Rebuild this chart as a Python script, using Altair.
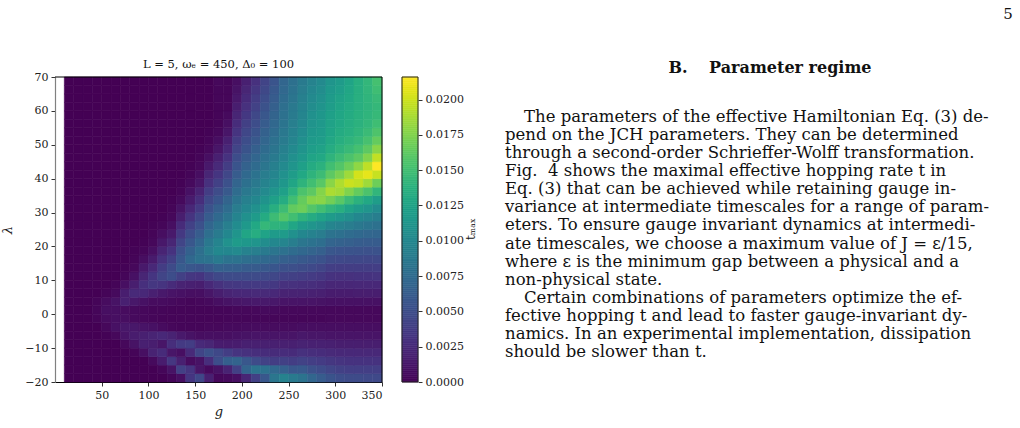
import altair as alt
import numpy as np
import pandas as pd

SERIF = "DejaVu Serif"

# ---------------------------------------------------------------------------
# t_max map: cell edges in g and lambda
G_EDGES = list(range(10, 351, 10))                 # 34 columns
LAMBDA_EDGES = [-20 + 2.5 * k for k in range(37)]  # 36 rows

# t_max per g-column, listed from lambda = -20 (bottom) to 70 (top), unit 1e-4
T_MAX_COLUMNS = [
    [0, 0, 0, 0, 0, 0, 0, 0, 0, 0, 0, 0,  0, 0, 0, 0, 0, 0, 0, 0, 0, 0, 0, 0,  0, 0, 0, 0, 0, 0, 0, 0, 0, 0, 0, 0],  # g=15
    [0, 0, 0, 0, 0, 0, 0, 0, 0, 0, 0, 0,  0, 0, 0, 0, 0, 0, 0, 0, 0, 0, 0, 0,  0, 0, 0, 0, 0, 0, 0, 0, 0, 0, 0, 0],  # g=25
    [0, 0, 0, 0, 0, 0, 0, 0, 0, 0, 0, 0,  0, 0, 0, 0, 0, 0, 0, 0, 0, 0, 0, 0,  0, 0, 0, 0, 0, 0, 0, 0, 0, 0, 0, 0],  # g=35
    [0, 0, 0, 0, 0, 0, 0, 2, 3, 2, 0, 0,  0, 0, 0, 0, 0, 0, 0, 0, 0, 0, 0, 0,  0, 0, 0, 0, 0, 0, 0, 0, 0, 0, 0, 0],  # g=45
    [0, 0, 0, 0, 0, 1, 4, 6, 8, 6, 2, 0,  0, 0, 0, 0, 0, 0, 0, 0, 0, 0, 0, 0,  0, 0, 0, 0, 0, 0, 0, 0, 0, 0, 0, 0],  # g=55
    [0, 0, 0, 0, 0, 4, 9, 8, 8, 10, 5, 2,  0, 0, 0, 0, 0, 0, 0, 0, 0, 0, 0, 0,  0, 0, 0, 0, 0, 0, 0, 0, 0, 0, 0, 0],  # g=65
    [0, 0, 0, 0, 4, 11, 13, 7, 6, 18, 17, 8,  3, 1, 0, 0, 0, 0, 0, 0, 0, 0, 0, 0,  0, 0, 0, 0, 0, 0, 0, 0, 0, 0, 0, 0],  # g=75
    [0, 0, 0, 2, 10, 16, 13, 5, 5, 13, 25, 17,  9, 4, 2, 1, 0, 0, 0, 0, 0, 0, 0, 0,  0, 0, 0, 0, 0, 0, 0, 0, 0, 0, 0, 0],  # g=85
    [0, 0, 0, 8, 18, 18, 11, 4, 4, 9, 24, 29,  22, 14, 7, 3, 1, 0, 0, 0, 0, 0, 0, 0,  0, 0, 0, 0, 0, 0, 0, 0, 0, 0, 0, 0],  # g=95
    [0, 0, 5, 20, 17, 21, 9, 3, 3, 6, 18, 34,  33, 24, 15, 8, 4, 2, 1, 0, 0, 0, 0, 0,  0, 0, 0, 0, 0, 0, 0, 0, 0, 0, 0, 0],  # g=105
    [0, 3, 16, 26, 12, 24, 6, 2, 3, 6, 14, 32,  44, 38, 30, 21, 13, 7, 3, 1, 0, 0, 0, 0,  0, 0, 0, 0, 0, 0, 0, 0, 0, 0, 0, 0],  # g=115
    [3, 10, 34, 12, 28, 20, 4, 2, 2, 5, 11, 26,  50, 48, 40, 31, 22, 14, 8, 4, 2, 1, 0, 0,  0, 0, 0, 0, 0, 0, 0, 0, 0, 0, 0, 0],  # g=125
    [8, 40, 18, 8, 36, 14, 3, 2, 2, 4, 9, 20,  40, 62, 58, 52, 44, 35, 26, 17, 10, 5, 2, 1,  0, 0, 0, 0, 0, 0, 0, 0, 0, 0, 0, 0],  # g=135
    [33, 32, 6, 25, 38, 10, 3, 2, 2, 3, 8, 18,  34, 58, 72, 66, 58, 50, 41, 32, 23, 15, 9, 5,  2, 1, 0, 0, 0, 0, 0, 0, 0, 0, 0, 0],  # g=145
    [45, 12, 10, 44, 25, 7, 3, 2, 2, 4, 8, 17,  32, 55, 80, 78, 70, 62, 53, 45, 36, 28, 20, 12,  7, 4, 2, 1, 0, 0, 0, 0, 0, 0, 0, 0],  # g=155
    [18, 5, 28, 52, 22, 8, 4, 2, 2, 5, 12, 24,  40, 60, 82, 91, 86, 78, 70, 62, 54, 46, 38, 30,  22, 14, 8, 4, 2, 1, 0, 0, 0, 0, 0, 0],  # g=165
    [4, 10, 50, 46, 16, 8, 4, 2, 3, 8, 17, 30,  46, 66, 88, 101, 97, 89, 81, 73, 65, 57, 49, 41,  33, 25, 18, 12, 7, 4, 2, 2, 2, 3, 3, 4],  # g=175
    [5, 20, 64, 38, 15, 8, 5, 3, 3, 10, 21, 34,  48, 64, 82, 100, 109, 100, 92, 84, 76, 68, 60, 53,  45, 38, 31, 24, 18, 12, 8, 5, 3, 3, 3, 3],  # g=185
    [8, 40, 68, 32, 16, 9, 5, 3, 4, 12, 23, 35,  48, 64, 82, 102, 118, 112, 104, 97, 90, 83, 76, 69,  62, 56, 50, 44, 38, 32, 27, 22, 17, 13, 10, 8],  # g=195
    [22, 68, 58, 30, 18, 10, 6, 3, 4, 13, 24, 36,  48, 62, 78, 95, 115, 127, 116, 108, 100, 93, 86, 79,  73, 67, 61, 55, 50, 45, 40, 35, 30, 26, 22, 18],  # g=205
    [40, 82, 48, 28, 18, 11, 6, 3, 4, 14, 25, 36,  48, 61, 76, 92, 112, 134, 130, 118, 108, 100, 93, 87,  81, 75, 70, 65, 60, 55, 50, 46, 42, 38, 34, 30],  # g=215
    [58, 80, 42, 27, 18, 11, 6, 3, 5, 14, 25, 36,  47, 59, 73, 88, 105, 125, 144, 132, 120, 110, 102, 96,  90, 85, 80, 75, 70, 66, 62, 58, 54, 50, 46, 43],  # g=225
    [85, 72, 38, 26, 18, 11, 6, 3, 5, 13, 24, 35,  45, 57, 70, 84, 100, 118, 140, 148, 135, 122, 112, 104,  98, 93, 88, 84, 80, 76, 72, 68, 65, 62, 59, 56],  # g=235
    [95, 65, 40, 27, 18, 11, 6, 3, 4, 11, 20, 30,  41, 52, 65, 80, 98, 118, 138, 158, 148, 133, 122, 114,  108, 102, 97, 93, 89, 86, 83, 80, 78, 75, 72, 70],  # g=245
    [88, 58, 38, 26, 18, 11, 6, 3, 4, 11, 20, 30,  40, 51, 63, 76, 91, 108, 128, 150, 164, 150, 138, 127,  119, 112, 107, 102, 98, 95, 92, 89, 87, 84, 81, 79],  # g=255
    [82, 60, 42, 30, 20, 13, 7, 3, 4, 11, 20, 29,  39, 49, 60, 72, 85, 100, 118, 140, 168, 165, 155, 140,  130, 122, 116, 111, 107, 104, 101, 98, 96, 93, 90, 88],  # g=265
    [70, 52, 39, 28, 19, 12, 7, 3, 4, 11, 19, 28,  37, 47, 57, 68, 81, 95, 112, 132, 158, 176, 162, 150,  140, 132, 126, 121, 117, 114, 111, 108, 105, 102, 99, 96],  # g=275
    [62, 48, 37, 27, 19, 12, 7, 3, 4, 10, 18, 26,  35, 44, 54, 65, 77, 90, 106, 125, 150, 178, 176, 160,  148, 138, 130, 124, 120, 118, 116, 114, 111, 108, 105, 102],  # g=285
    [55, 44, 34, 25, 18, 11, 7, 4, 4, 9, 16, 23,  31, 39, 48, 58, 69, 82, 98, 118, 142, 170, 189, 178,  162, 150, 140, 133, 129, 126, 124, 122, 120, 118, 115, 112],  # g=295
    [50, 40, 32, 24, 17, 11, 7, 4, 4, 9, 16, 23,  30, 38, 47, 56, 67, 79, 94, 112, 135, 160, 186, 190,  172, 158, 148, 140, 135, 132, 130, 128, 126, 124, 121, 118],  # g=305
    [48, 39, 31, 24, 17, 11, 7, 4, 4, 9, 16, 23,  30, 38, 46, 55, 65, 76, 90, 106, 125, 148, 175, 199,  185, 168, 155, 146, 140, 136, 134, 132, 131, 130, 128, 126],  # g=315
    [48, 39, 31, 24, 17, 11, 7, 4, 4, 9, 17, 24,  31, 38, 46, 54, 63, 73, 86, 100, 118, 138, 165, 196,  202, 180, 162, 152, 145, 141, 138, 137, 136, 136, 135, 135],  # g=325
    [47, 39, 31, 24, 17, 11, 7, 4, 4, 9, 17, 24,  31, 38, 45, 53, 62, 71, 83, 96, 112, 130, 155, 185,  208, 195, 175, 162, 153, 147, 143, 141, 140, 141, 142, 143],  # g=335
    [47, 39, 31, 24, 17, 11, 7, 4, 4, 9, 17, 24,  32, 39, 46, 54, 62, 70, 80, 91, 104, 120, 142, 168,  198, 216, 196, 178, 165, 156, 149, 145, 144, 146, 149, 152],  # g=345
]
T_UNIT = 1e-4
T_TOP = 0.0216

G_TICKS = [50, 100, 150, 200, 250, 300, 350]
LAMBDA_TICKS = [-20, -10, 0, 10, 20, 30, 40, 50, 60, 70]
CB_TICKS = [0.0, 0.0025, 0.005, 0.0075, 0.01, 0.0125, 0.015, 0.0175, 0.02]

PLOT_TITLE = "L = 5, ωₑ = 450, Δ₀ = 100"
CB_LABEL = "tₘₐₓ"
PAGE_NUMBER = "5"
HEADING = "B.\u2003 Parameter regime"
PARAGRAPH_LINES = [
    "The parameters of the effective Hamiltonian Eq. (3) de-",
    "pend on the JCH parameters. They can be determined",
    "through a second-order Schrieffer-Wolff transformation.",
    "Fig.\u00a0 4 shows the maximal effective hopping rate t in",
    "Eq. (3) that can be achieved while retaining gauge in-",
    "variance at intermediate timescales for a range of param-",
    "eters. To ensure gauge invariant dynamics at intermedi-",
    "ate timescales, we choose a maximum value of J = ε/15,",
    "where ε is the minimum gap between a physical and a",
    "non-physical state.",
    "Certain combinations of parameters optimize the ef-",
    "fective hopping t and lead to faster gauge-invariant dy-",
    "namics. In an experimental implementation, dissipation",
    "should be slower than t.",
]
INDENTED_LINES = {0, 10}

# ---------------------------------------------------------------------------
records = []
for j, column in enumerate(T_MAX_COLUMNS):
    for i, v in enumerate(column):
        records.append({
            "g0": G_EDGES[j], "g1": G_EDGES[j + 1],
            "l0": LAMBDA_EDGES[i], "l1": LAMBDA_EDGES[i + 1],
            "t": v * T_UNIT,
        })
heat_df = pd.DataFrame(records)

levels = np.linspace(0, T_TOP, 161)
cb_df = pd.DataFrame({"v0": levels[:-1], "v1": levels[1:],
                      "t": (levels[:-1] + levels[1:]) / 2})

W, H = 327, 305
c_scale = alt.Scale(scheme="viridis", domain=[0, T_TOP], clamp=True)

axis_common = dict(labelFont=SERIF, labelFontSize=11, labelColor="#222",
                   tickColor="#333", tickSize=4, labelPadding=3, grid=False,
                   titleFont=SERIF, titleFontWeight="normal", titleFontSize=13,
                   titleColor="#222", titleFontStyle="italic")

heat = alt.Chart(heat_df).mark_rect(strokeWidth=0.6).encode(
    x=alt.X("g0:Q", scale=alt.Scale(domain=[0, 350], nice=False, zero=False),
            axis=alt.Axis(values=G_TICKS, format="d", title="g", titlePadding=5,
                          domainColor="#000", **axis_common)),
    x2="g1",
    y=alt.Y("l0:Q", scale=alt.Scale(domain=[-20, 70], nice=False, zero=False),
            axis=alt.Axis(values=LAMBDA_TICKS, format="d", title="λ", titleAngle=270,
                          titlePadding=10, domainColor="#808080", domainWidth=1.2,
                          **axis_common)),
    y2="l1",
    color=alt.Color("t:Q", scale=c_scale, legend=None),
    stroke=alt.Stroke("t:Q", scale=c_scale, legend=None),
)

colorbar = alt.Chart(cb_df).mark_rect(strokeWidth=0.6).encode(
    x=alt.value(W + 20), x2=alt.value(W + 36),
    y=alt.Y("v0:Q", scale=alt.Scale(domain=[0, T_TOP], nice=False, zero=False),
            axis=alt.Axis(orient="right", offset=36, values=CB_TICKS, format=".4f",
                          title=None, domain=False, labelFont=SERIF, labelFontSize=11,
                          labelColor="#222", tickColor="#333", tickSize=4,
                          labelPadding=3, grid=False)),
    y2="v1",
    color=alt.Color("t:Q", scale=c_scale, legend=None),
    stroke=alt.Stroke("t:Q", scale=c_scale, legend=None),
)

one = pd.DataFrame({"k": [0]})
cb_frame = alt.Chart(one).mark_rect(fillOpacity=0, stroke="#222", strokeWidth=1).encode(
    x=alt.value(W + 20), x2=alt.value(W + 36), y=alt.value(0), y2=alt.value(H))
top_line = alt.Chart(one).mark_rule(color="#000", strokeWidth=1).encode(
    x=alt.value(0), x2=alt.value(W), y=alt.value(0))
right_line = alt.Chart(one).mark_rule(color="#000", strokeWidth=1).encode(
    x=alt.value(W), y=alt.value(0), y2=alt.value(H))


def text_layer(s, x, y, size, align="center", weight="normal", style="normal", angle=0):
    return alt.Chart(pd.DataFrame({"s": [s]})).mark_text(
        align=align, baseline="middle", font=SERIF, fontSize=size,
        fontWeight=weight, fontStyle=style, angle=angle, color="#111",
    ).encode(text="s:N", x=alt.value(x), y=alt.value(y))


texts = [
    text_layer(PLOT_TITLE, W / 2, -12, 11.5),
    text_layer(CB_LABEL, 416, 152, 12, angle=270),
    text_layer(PAGE_NUMBER, 953, -63, 15),
    text_layer(HEADING, 715, -9, 16, weight="bold"),
]
for i, line in enumerate(PARAGRAPH_LINES):
    x0 = 469 if i in INDENTED_LINES else 450
    texts.append(text_layer(line, x0, 40 + 18.08 * i, 16.5, align="left"))

chart = alt.layer(heat, colorbar, cb_frame, top_line, right_line, *texts).resolve_scale(
    y="independent"
).properties(
    width=W, height=H,
    autosize=alt.AutoSizeParams(type="none"),
    padding={"left": 55, "top": 77, "right": 1020 - 55 - W, "bottom": 428 - 77 - H},
    background="white",
).configure_view(stroke=None)

chart.save("out.html", embed_options={"renderer": "svg", "actions": False})
